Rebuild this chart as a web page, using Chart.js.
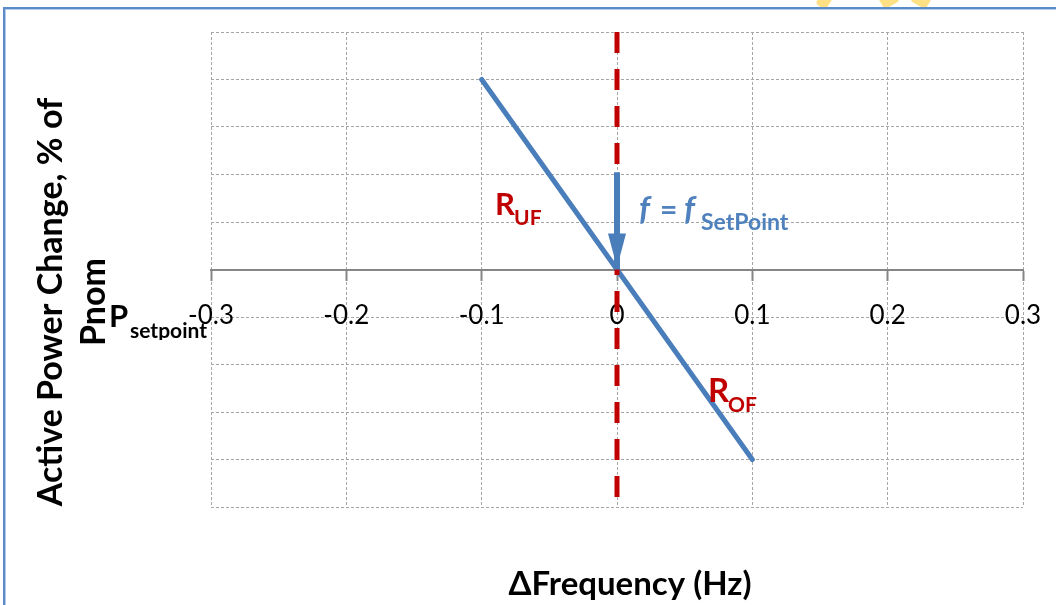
<!DOCTYPE html>
<html>
<head>
<meta charset="utf-8">
<script src="https://cdn.jsdelivr.net/npm/chart.js@4/dist/chart.umd.min.js"></script>
<style>
  html, body { margin: 0; padding: 0; background: #fff; overflow: hidden; }
  #wrap { position: relative; width: 1056px; height: 605px; overflow: hidden; }
  #frame {
    position: absolute; left: 3px; top: 7px; width: 1200px; height: 800px;
    border-left: 2px solid #5b8bc9; border-top: 2px solid #5b8bc9;
    box-shadow: inset 1px 1px 0 #b4cbe9;
  }
  .blob { position: absolute; background: #ffd866; opacity: 0.8; border-radius: 4px; }
  canvas { position: absolute; left: 0; top: 0; }
</style>
</head>
<body>
<div id="wrap">
  <div class="blob" style="left:818px; top:-6px; width:12px; height:14px; transform:rotate(35deg);"></div>
  <div class="blob" style="left:880px; top:-8px; width:18px; height:14px; transform:rotate(-30deg);"></div>
  <div class="blob" style="left:912px; top:-8px; width:18px; height:14px; transform:rotate(30deg);"></div>
  <div id="frame"></div>
  <canvas id="lineChart" width="1056" height="605"></canvas>
</div>
<script>
// x tick labels (Hz)
const freqTicks = ["-0.3", "-0.2", "-0.1", "0", "0.1", "0.2", "0.3"];

// droop line R_UF / R_OF
const droopFreq = [-0.1, 0.1];
const droopPower = [4, -4];

// f = f_setpoint marker
const setpointFreq = [0, 0];
const setpointPower = [5, -5];

// arrow pointing at the setpoint
const arrowFreq = [0, 0];
const arrowPower = [2.05, 0];

const yTitle = ["Active Power Change, % of", "Pnom"];
const xTitle = "\u0394Frequency (Hz)";

const blue = "#4a7ebb";
const red = "#c00000";

function pts(xs, ys) {
  return xs.map((v, i) => ({ x: v, y: ys[i] }));
}

const textPlugin = {
  id: "texts",
  afterDatasetsDraw(chart) {
    // arrow head on the last arrow point
    const { ctx } = chart;
    const meta = chart.getDatasetMeta(0);
    const tip = meta.data[meta.data.length - 1];
    ctx.save();
    ctx.fillStyle = blue;
    ctx.beginPath();
    ctx.moveTo(tip.x, tip.y - 2);
    ctx.lineTo(tip.x - 9, tip.y - 36);
    ctx.lineTo(tip.x + 9, tip.y - 36);
    ctx.closePath();
    ctx.fill();
    ctx.restore();
  },
  afterDraw(chart) {
    const { ctx } = chart;
    const sx = chart.scales.x, sy = chart.scales.y;
    ctx.save();

    // y axis title, rotated
    ctx.fillStyle = "#000";
    ctx.font = "bold 34px Lato";
    ctx.textAlign = "center";
    ctx.textBaseline = "alphabetic";
    const base = [62, 105];
    const widths = [410, 90];
    yTitle.forEach((line, i) => {
      ctx.save();
      ctx.translate(base[i], 302);
      ctx.rotate(-Math.PI / 2);
      ctx.fillText(line, 0, 0, widths[i]);
      ctx.restore();
    });

    // P setpoint (horizontal, clipped at the bottom like the original)
    ctx.save();
    ctx.beginPath();
    ctx.rect(100, 290, 130, 50);
    ctx.clip();
    ctx.textAlign = "left";
    ctx.font = "bold 31px Lato";
    ctx.fillText("P", 109, 327);
    ctx.font = "bold 21px Lato";
    ctx.fillText("setpoint", 130, 338, 86);
    ctx.restore();

    // x axis title
    ctx.font = "bold 33px Lato";
    ctx.textAlign = "center";
    ctx.fillText(xTitle, 630, 595, 252);

    // annotations, anchored in data units; parts = [text, dx, dy, font]
    const notes = [
      { x: -0.0901, y: 1.147, color: red, parts: [["R", 0, 0, "bold 31px Lato"], ["UF", 19, 10, "bold 21px Lato"]] },
      { x: 0.0672, y: -2.79, color: red, parts: [["R", 0, 0, "bold 33px Lato"], ["OF", 20, 10, "bold 21px Lato"]] },
      { x: 0.0155, y: 1.04, color: "#4f81bd", parts: [
        ["f", 1, 0, "italic bold 33px Lato"], ["=", 22, 0, "bold 30px Lato"],
        ["f", 46, 0, "italic bold 33px Lato"], ["SetPoint", 63, 10, "bold 23px Lato"]] }
    ];
    ctx.textAlign = "left";
    notes.forEach(n => {
      const px = sx.getPixelForValue(n.x);
      const py = sy.getPixelForValue(n.y);
      ctx.fillStyle = n.color;
      n.parts.forEach(([t, dx, dy, f]) => {
        ctx.font = f;
        ctx.fillText(t, px + dx, py + dy);
      });
    });
    ctx.restore();
  }
};

const ctx = document.getElementById("lineChart").getContext("2d");

const chart = new Chart(ctx, {
  type: "scatter",
  data: {
    datasets: [
      {
        label: "arrow",
        data: pts(arrowFreq, arrowPower),
        showLine: true,
        borderColor: blue,
        borderWidth: 6,
        pointRadius: 0,
        order: 0
      },
      {
        label: "setpoint",
        data: pts(setpointFreq, setpointPower),
        showLine: true,
        borderColor: red,
        borderWidth: 5,
        borderDash: [21, 16],
        pointRadius: 0,
        order: 1
      },
      {
        label: "droop",
        data: pts(droopFreq, droopPower),
        showLine: true,
        borderColor: blue,
        borderWidth: 5,
        borderCapStyle: "round",
        pointRadius: 0,
        order: 2
      }
    ]
  },
  options: {
    responsive: false,
    animation: false,
    layout: { padding: { left: 211, right: 33, top: 32, bottom: 98 } },
    plugins: {
      legend: { display: false },
      tooltip: { enabled: false }
    },
    scales: {
      x: {
        type: "linear",
        position: { y: 0 },
        min: -0.3,
        max: 0.3,
        afterFit: (s) => { s.paddingRight = 0; s.paddingLeft = 0; },
        ticks: {
          stepSize: 0.1,
          padding: 21,
          color: "#000",
          font: { family: "Lato", size: 26 },
          callback: (v, i) => freqTicks[i]
        },
        grid: {
          color: "#a6a6a6",
          lineWidth: 1,
          tickColor: "#868686",
          tickWidth: 2,
          tickLength: 10,
          tickBorderDash: []
        },
        border: { display: true, color: "#868686", width: 2, dash: [3, 2] }
      },
      y: {
        min: -5,
        max: 5,
        ticks: { display: false, stepSize: 1 },
        grid: { color: "#a6a6a6", lineWidth: 1, drawTicks: false },
        border: { display: false, dash: [3, 2] }
      }
    }
  },
  plugins: [textPlugin]
});
</script>
</body>
</html>
